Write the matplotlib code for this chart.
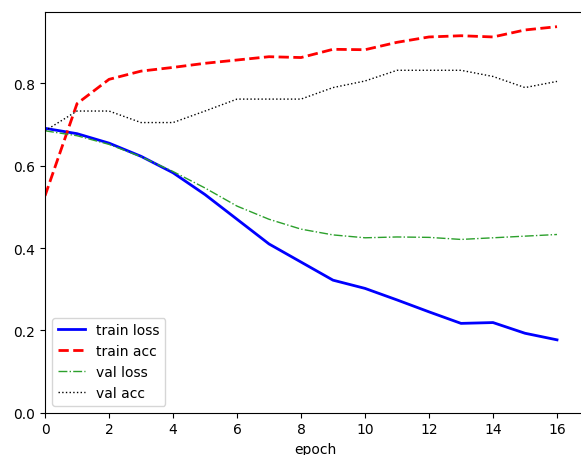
import matplotlib
matplotlib.use("Agg")
import matplotlib.pyplot as plt

epochs = list(range(17))
train_loss = [0.691, 0.678, 0.655, 0.623, 0.583, 0.530, 0.470, 0.410, 0.366, 0.322, 0.302,
              0.274, 0.245, 0.217, 0.219, 0.193, 0.177]
train_acc = [0.527, 0.751, 0.810, 0.830, 0.839, 0.849, 0.857, 0.865, 0.863, 0.883, 0.882,
             0.900, 0.913, 0.916, 0.913, 0.930, 0.938]
val_loss = [0.685, 0.673, 0.652, 0.622, 0.586, 0.546, 0.502, 0.470, 0.446, 0.432, 0.425,
            0.427, 0.426, 0.421, 0.425, 0.429, 0.433]
val_acc = [0.685, 0.733, 0.733, 0.705, 0.705, 0.733, 0.762, 0.762, 0.762, 0.790, 0.806,
           0.832, 0.832, 0.832, 0.817, 0.790, 0.805]

fig = plt.figure(figsize=(5.81, 4.56), dpi=100)
ax = fig.add_axes([0.0775, 0.0928, 0.9294, 0.879])
ax.plot(epochs, train_loss, 'b-', lw=2, label='train loss')
ax.plot(epochs, train_acc, 'r--', lw=2, label='train acc')
ax.plot(epochs, val_loss, '-.', color='tab:green', lw=1, label='val loss')
ax.plot(epochs, val_acc, 'k:', lw=1, label='val acc')
ax.set_xlim(0, 16.875)
ax.set_ylim(0, 0.974)
ax.set_xticks(range(0, 17, 2))
ax.set_xlabel('epoch')
ax.legend(loc='lower left')
fig.savefig('out.png', dpi=100)
